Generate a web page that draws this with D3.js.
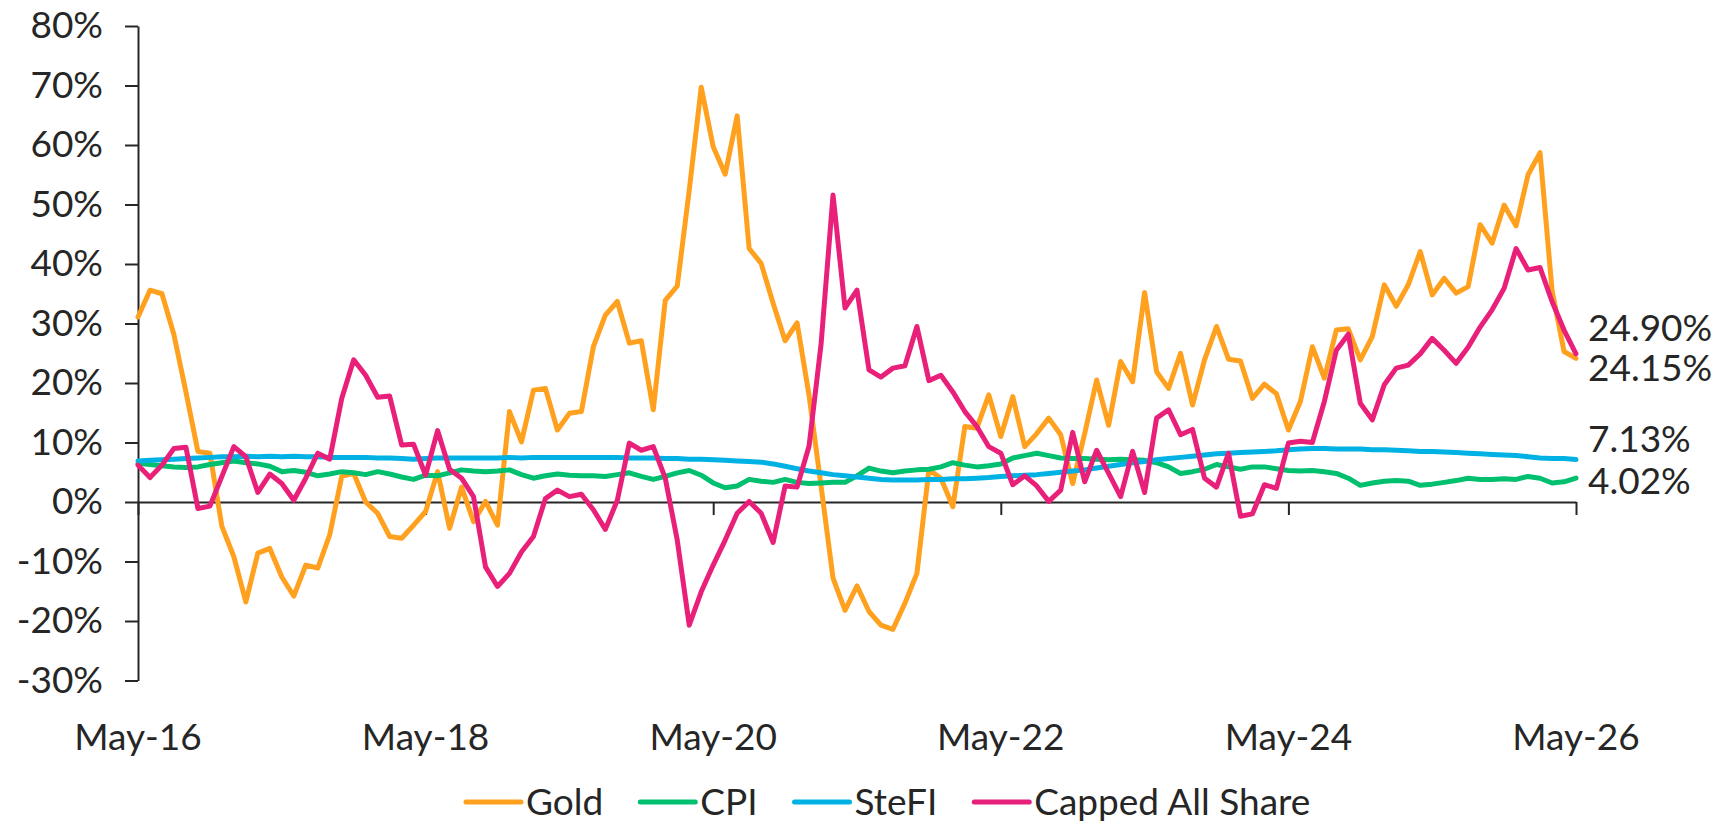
<!DOCTYPE html>
<html>
<head>
<meta charset="utf-8">
<script src="https://cdn.jsdelivr.net/npm/d3@7"></script>
<style>
  body { margin: 0; background: #ffffff; }
  text { font-family: Lato, "Noto Sans", sans-serif; fill: #262626; }
</style>
</head>
<body>
<div id="chart"></div>
<script>
// monthly points, May-16 to May-26
var months = d3.timeMonth.range(new Date(2016, 4, 1), new Date(2026, 5, 1));

var seriesNames = ["Gold", "CPI", "SteFI", "Capped All Share"];
var seriesColors = ["#FFA11F", "#00BF6F", "#00B2E3", "#E8207A"];

var gold = [31.1, 35.6, 35.0, 28.1, 18.5, 8.5, 8.2, -4.1, -9.2, -16.8,
  -8.6, -7.8, -12.6, -15.8, -10.6, -11.1, -5.5, 4.3, 4.8, 0.0,
  -1.9, -5.8, -6.1, -3.9, -1.6, 5.1, -4.4, 2.5, -3.3, 0.1,
  -3.9, 15.2, 10.1, 18.8, 19.1, 12.1, 14.9, 15.2, 26.1, 31.4,
  33.7, 26.7, 27.1, 15.5, 33.9, 36.3, 52.4, 69.7, 59.7, 55.1,
  64.9, 42.6, 40.1, 33.4, 27.1, 30.1, 17.9, 2.7, -12.8, -18.2,
  -14.1, -18.4, -20.7, -21.4, -17.0, -12.0, 5.4, 4.0, -0.8, 12.7,
  12.4, 18.0, 11.0, 17.7, 9.3, 11.5, 14.1, 11.3, 3.1, 11.5,
  20.5, 12.9, 23.6, 20.2, 35.2, 21.9, 19.1, 25.0, 16.3, 23.9,
  29.5, 24.0, 23.7, 17.4, 19.8, 18.2, 12.1, 16.9, 26.1, 20.8,
  28.9, 29.1, 23.9, 27.8, 36.5, 32.9, 36.5, 42.1, 34.8, 37.6,
  35.1, 36.2, 46.6, 43.5, 49.9, 46.4, 55.0, 58.7, 35.6, 25.3,
  24.15];

var cpi = [6.5, 6.3, 6.1, 5.9, 5.8, 5.9, 6.3, 6.6, 6.9, 6.6,
  6.4, 6.0, 5.1, 5.3, 5.0, 4.4, 4.7, 5.1, 4.9, 4.6,
  5.1, 4.7, 4.2, 3.8, 4.5, 4.4, 4.9, 5.4, 5.2, 5.1,
  5.2, 5.4, 4.6, 4.0, 4.4, 4.7, 4.5, 4.4, 4.4, 4.3,
  4.6, 4.9, 4.3, 3.8, 4.3, 4.9, 5.3, 4.5, 3.2, 2.4,
  2.7, 3.8, 3.5, 3.3, 3.8, 3.3, 3.1, 3.2, 3.3, 3.3,
  4.4, 5.7, 5.2, 4.9, 5.2, 5.4, 5.5, 5.9, 6.6, 6.2,
  5.9, 6.1, 6.4, 7.4, 7.8, 8.2, 7.8, 7.4, 7.3, 7.3,
  7.2, 7.1, 7.2, 7.1, 7.0, 6.6, 5.9, 4.8, 5.1, 5.5,
  6.3, 5.9, 5.5, 5.9, 5.9, 5.6, 5.3, 5.2, 5.3, 5.1,
  4.8, 4.0, 2.8, 3.2, 3.5, 3.6, 3.5, 2.8, 3.0, 3.3,
  3.6, 4.0, 3.8, 3.8, 3.9, 3.8, 4.3, 4.0, 3.2, 3.4,
  4.02];

var stefi = [6.9, 7.0, 7.1, 7.2, 7.3, 7.4, 7.5, 7.6, 7.6, 7.7,
  7.6, 7.7, 7.6, 7.7, 7.6, 7.6, 7.5, 7.5, 7.5, 7.5,
  7.4, 7.4, 7.3, 7.2, 7.3, 7.4, 7.4, 7.4, 7.4, 7.4,
  7.4, 7.5, 7.4, 7.5, 7.5, 7.5, 7.5, 7.5, 7.5, 7.5,
  7.5, 7.4, 7.4, 7.4, 7.3, 7.3, 7.2, 7.2, 7.1, 7.0,
  6.9, 6.8, 6.7, 6.4, 6.0, 5.6, 5.2, 4.9, 4.6, 4.4,
  4.2, 4.0, 3.8, 3.7, 3.7, 3.7, 3.8, 3.8, 3.9, 3.9,
  4.0, 4.1, 4.3, 4.4, 4.5, 4.6, 4.8, 5.0, 5.2, 5.4,
  5.7, 6.0, 6.3, 6.6, 6.8, 7.1, 7.3, 7.5, 7.7, 7.9,
  8.1, 8.2, 8.3, 8.4, 8.5, 8.6, 8.8, 8.9, 9.0, 9.0,
  8.9, 8.9, 8.9, 8.8, 8.8, 8.7, 8.6, 8.5, 8.5, 8.4,
  8.3, 8.2, 8.1, 8.0, 7.9, 7.8, 7.6, 7.4, 7.3, 7.3,
  7.13];

var cappedAllShare = [6.2, 4.1, 6.2, 9.0, 9.2, -1.1, -0.7, 4.3, 9.3, 7.6,
  1.6, 4.7, 3.1, 0.3, 4.0, 8.2, 7.2, 17.4, 23.9, 21.3,
  17.6, 17.8, 9.6, 9.7, 4.5, 12.0, 5.5, 4.0, 0.9, -10.9,
  -14.2, -12.0, -8.4, -5.8, 0.6, 2.0, 0.9, 1.3, -1.3, -4.6,
  0.3, 9.9, 8.7, 9.3, 4.0, -6.4, -20.7, -15.1, -10.6, -6.4,
  -1.9, 0.1, -1.9, -6.8, 2.7, 2.5, 9.4, 26.5, 51.6, 32.6,
  35.6, 22.2, 21.0, 22.5, 22.9, 29.5, 20.4, 21.3, 18.5, 15.2,
  12.7, 9.3, 8.2, 2.9, 4.4, 2.7, 0.1, 2.0, 11.7, 3.4,
  8.7, 4.8, 0.9, 8.5, 1.6, 14.1, 15.5, 11.3, 12.2, 4.0,
  2.5, 8.2, -2.4, -2.0, 2.9, 2.3, 9.9, 10.2, 10.0, 16.9,
  25.5, 28.2, 16.6, 13.8, 19.7, 22.5, 23.0, 24.9, 27.5, 25.5,
  23.3, 26.0, 29.4, 32.3, 35.9, 42.6, 39.0, 39.4, 33.7, 28.9,
  24.90];

var endLabels = ["24.15%", "4.02%", "7.13%", "24.90%"];
var yTicks = [-30, -20, -10, 0, 10, 20, 30, 40, 50, 60, 70, 80];
var xTickLabels = ["May-16", "May-18", "May-20", "May-22", "May-24", "May-26"];

function drawChart() {

  var svgWidth = 1719;
  var svgHeight = 824;
  var fontSize = 37;

  var svg = d3.select("#chart")
    .append("svg")
    .attr("width", svgWidth)
    .attr("height", svgHeight);

  var allSeries = [gold, cpi, stefi, cappedAllShare];
  var fmt = d3.timeFormat("%b-%y");

  var x = d3.scaleLinear()
    .domain([0, months.length - 1])
    .range([138, 1576]);

  var y = d3.scaleLinear()
    .domain([-30, 80])
    .range([680.5, 26]);

  // y axis
  var yAxis = d3.axisLeft(y)
    .tickValues(yTicks)
    .tickSize(13)
    .tickSizeOuter(0)
    .tickPadding(22)
    .tickFormat(d => d + "%");

  var yG = svg.append("g")
    .attr("transform", "translate(" + x(0) + ",0)")
    .call(yAxis);

  // x axis sits on the zero line, labels go at the bottom
  var tickIdx = xTickLabels.map(lbl => months.findIndex(m => fmt(m) === lbl));

  var xAxis = d3.axisBottom(x)
    .tickValues(tickIdx)
    .tickSize(13)
    .tickSizeOuter(0)
    .tickFormat("");

  var xG = svg.append("g")
    .attr("transform", "translate(0," + y(0) + ")")
    .call(xAxis);

  [yG, xG].forEach(function(g) {
    g.select(".domain").attr("stroke", "#262626").attr("stroke-width", 2);
    g.selectAll(".tick line").attr("stroke", "#262626").attr("stroke-width", 2);
  });

  yG.selectAll("text")
    .attr("font-size", fontSize + "px")
    .attr("fill", "#262626")
    .attr("font-family", "Lato, 'Noto Sans', sans-serif");

  svg.append("g")
    .selectAll("text")
    .data(xTickLabels)
    .enter()
    .append("text")
    .attr("x", (d, i) => x(tickIdx[i]))
    .attr("y", 750)
    .attr("text-anchor", "middle")
    .attr("font-size", fontSize + "px")
    .text(d => d);

  // lines
  var line = d3.line()
    .x((d, i) => x(i))
    .y(d => y(d));

  svg.append("g")
    .selectAll("path")
    .data(allSeries)
    .enter()
    .append("path")
    .attr("d", d => line(d))
    .attr("fill", "none")
    .attr("stroke", (d, i) => seriesColors[i])
    .attr("stroke-width", 5)
    .attr("stroke-linejoin", "round")
    .attr("stroke-linecap", "round");

  // end value labels (nudged apart so they don't sit on each other)
  var labelShift = [9, 2.5, -21, -26];
  svg.append("g")
    .selectAll("text")
    .data(allSeries)
    .enter()
    .append("text")
    .attr("x", x(months.length - 1) + 12)
    .attr("y", (d, i) => y(d[d.length - 1]) + labelShift[i])
    .attr("dy", "0.36em")
    .attr("font-size", fontSize + "px")
    .text((d, i) => endLabels[i]);

  // legend
  var legend = svg.append("g");
  var lx = 466;
  seriesNames.forEach(function(name, i) {
    legend.append("line")
      .attr("x1", lx).attr("x2", lx + 55)
      .attr("y1", 802).attr("y2", 802)
      .attr("stroke", seriesColors[i])
      .attr("stroke-width", 5)
      .attr("stroke-linecap", "round");
    var t = legend.append("text")
      .attr("x", lx + 60)
      .attr("y", 802)
      .attr("dy", "0.36em")
      .attr("font-size", fontSize + "px")
      .text(name);
    lx = lx + 60 + t.node().getComputedTextLength() + 37;
  });
}

drawChart();
</script>
</body>
</html>
